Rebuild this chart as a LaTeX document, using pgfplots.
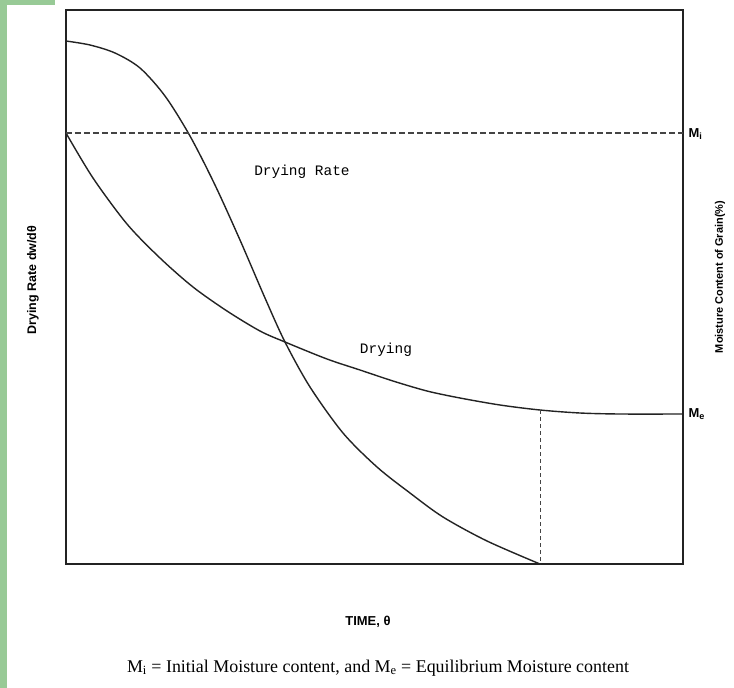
\documentclass[border=0pt]{standalone}
\usepackage{pgfplots}
\pgfplotsset{compat=1.18}
\usepackage{fontspec}
\setmainfont{Liberation Serif}
\setsansfont{Liberation Sans}
\setmonofont{Liberation Mono}

\definecolor{sidegreen}{RGB}{152,202,150}
\definecolor{ink}{RGB}{35,35,35}

\begin{document}
\begin{tikzpicture}
% page frame and the green strips of the scan
\fill[white] (-66bp,-124bp) rectangle (668bp,564bp);
\fill[sidegreen] (-66bp,-124bp) rectangle (-59bp,564bp);
\fill[sidegreen] (-66bp,559bp) rectangle (-11bp,564bp);
\begin{axis}[
	scale only axis,
	width=617bp, height=554bp,
	xmin=66, xmax=683,
	ymin=10, ymax=564,
	y dir=reverse,
	xtick=\empty, ytick=\empty,
	axis line style={ink, line width=1.5bp},
	clip=false,
]

% drying rate
\addplot[ink, line width=1.4bp, smooth] coordinates {
	(66,41) (90,45) (115,53) (140,68) (165,96) (190,136) (215,185)
	(240,240) (265,298) (285,342) (310,387) (343,433) (377,467)
	(410,493) (443,517) (487,541) (540,564)
};

% drying (moisture content)
\addplot[ink, line width=1.4bp, smooth] coordinates {
	(66,133) (93,178) (127,224) (160,258) (193,287) (227,311) (260,331)
	(285,342) (327,359) (360,370) (393,381) (427,391) (460,398)
	(500,405) (540,410) (580,413) (620,414) (683,414)
};

% initial moisture level
\addplot[ink!85, line width=1.3bp, dash pattern=on 6bp off 3bp] coordinates {(66,133) (683,133)};
% drop line at equilibrium
\addplot[ink!85, line width=1bp, dash pattern=on 4bp off 3bp] coordinates {(540,410) (540,564)};

\node[font=\ttfamily\fontsize{14.5}{16}\selectfont] at (axis cs:302,172) {Drying Rate};
\node[font=\ttfamily\fontsize{14.5}{16}\selectfont] at (axis cs:386,350) {Drying};

\node[anchor=west, font=\sffamily\bfseries\fontsize{13}{15}\selectfont] at (axis cs:685,134) {M\textsubscript{i}};
\node[anchor=west, font=\sffamily\bfseries\fontsize{13}{15}\selectfont] at (axis cs:685,414) {M\textsubscript{e}};

\node[rotate=90, font=\sffamily\bfseries\fontsize{12.5}{14}\selectfont] at (axis cs:33,280) {Drying Rate dw/dθ};
\node[rotate=90, font=\sffamily\bfseries\fontsize{11}{13}\selectfont] at (axis cs:720,277) {Moisture Content of Grain(\%)};
\node[font=\sffamily\bfseries\fontsize{13}{15}\selectfont] at (axis cs:368,622) {TIME, θ};

\node[font=\fontsize{18}{20}\selectfont] at (axis cs:378,668)
	{M\textsubscript{i} = Initial Moisture content, and M\textsubscript{e} = Equilibrium Moisture content};

\end{axis}
\end{tikzpicture}
\end{document}
